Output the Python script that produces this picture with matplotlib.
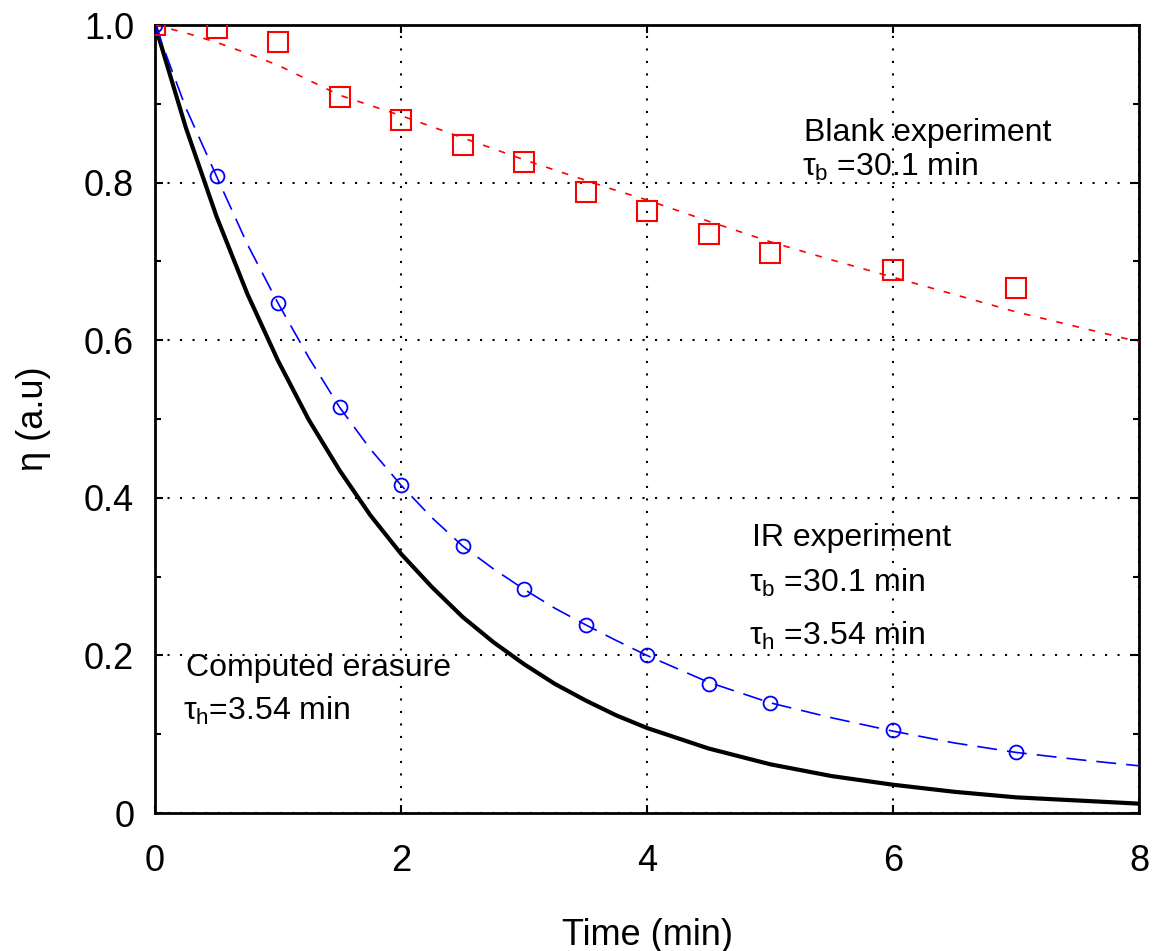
import matplotlib
matplotlib.use("Agg")
import matplotlib.pyplot as plt
from matplotlib.ticker import MultipleLocator

plt.rcParams["font.family"] = ["Liberation Sans", "DejaVu Sans"]
plt.rcParams["mathtext.fontset"] = "custom"
plt.rcParams["mathtext.rm"] = "Liberation Sans"
plt.rcParams["mathtext.it"] = "Liberation Sans"

# Measured points
t_blank = [0, 0.5, 1, 1.5, 2, 2.5, 3, 3.5, 4, 4.5, 5, 6, 7]
eta_blank = [1.0, 0.996, 0.978, 0.909, 0.879, 0.848, 0.826, 0.788, 0.764, 0.735, 0.711, 0.689, 0.666]

t_ir = [0, 0.5, 1, 1.5, 2, 2.5, 3, 3.5, 4, 4.5, 5, 6, 7]
eta_ir = [1.0, 0.808, 0.647, 0.515, 0.416, 0.339, 0.284, 0.239, 0.200, 0.164, 0.140, 0.105, 0.077]

# Fitted / computed curves
t_fit = [0, 0.25, 0.5, 0.75, 1, 1.25, 1.5, 1.75, 2, 2.25, 2.5, 2.75, 3, 3.25, 3.5, 3.75,
         4, 4.5, 5, 5.5, 6, 6.5, 7, 7.5, 8]
eta_blank_fit = [1.0, 0.99, 0.978, 0.964, 0.949, 0.93, 0.911, 0.898, 0.885, 0.871, 0.857, 0.843,
                 0.829, 0.816, 0.803, 0.790, 0.778, 0.751, 0.725, 0.702, 0.680, 0.658, 0.636,
                 0.617, 0.598]
eta_ir_fit = [1.0, 0.895, 0.808, 0.722, 0.647, 0.578, 0.515, 0.462, 0.416, 0.375, 0.339, 0.310,
              0.284, 0.260, 0.239, 0.219, 0.200, 0.166, 0.140, 0.121, 0.104, 0.089, 0.077,
              0.068, 0.060]
eta_computed = [1.0, 0.870, 0.757, 0.659, 0.574, 0.499, 0.435, 0.378, 0.329, 0.287, 0.249, 0.217,
                0.189, 0.164, 0.143, 0.124, 0.108, 0.082, 0.062, 0.047, 0.036, 0.027, 0.020,
                0.016, 0.012]

fig = plt.figure(figsize=(11.57, 9.51), dpi=100)
ax = fig.add_axes([0.134, 0.145, 0.8505, 0.8287])

ax.plot(t_fit, eta_computed, color="black", lw=3, zorder=3)
ax.plot(t_fit, eta_blank_fit, color="red", lw=1.2, dashes=(4, 6), zorder=3)
ax.plot(t_fit, eta_ir_fit, color="blue", lw=1.2, dashes=(12, 6), zorder=3)
ax.plot(t_blank, eta_blank, ls="none", marker="s", ms=15, mfc="none", mec="red", mew=1.5, zorder=4)
ax.plot(t_ir, eta_ir, ls="none", marker="o", ms=10, mfc="none", mec="blue", mew=1.3, zorder=4)

ax.set_xlim(0, 8)
ax.set_ylim(0, 1.0)
ax.yaxis.set_minor_locator(MultipleLocator(0.1))
ax.set_xticks([0, 2, 4, 6, 8])
ax.set_xticklabels(["0", "2", "4", "6", "8"])
ax.set_yticks([0, 0.2, 0.4, 0.6, 0.8, 1.0])
ax.set_yticklabels(["0", "0.2", "0.4", "0.6", "0.8", "1.0"])
ax.tick_params(which="both", direction="in", top=True, right=True, labelsize=26)
ax.tick_params(axis="x", pad=22)
ax.tick_params(axis="y", pad=15)
ax.tick_params(which="major", length=6, width=1.5)
ax.tick_params(which="minor", length=4, width=1.5)

ax.grid(True, which="major", color="black", ls=(0, (1, 5)), lw=1.5)
for s in ax.spines.values():
    s.set_linewidth(2)

ax.set_xlabel("Time (min)", fontsize=26, labelpad=28)
ax.set_ylabel("η (a.u)", fontsize=26, labelpad=24)

fs = 23
ax.text(5.28, 0.863, "Blank experiment", fontsize=fs, va="center")
ax.text(5.26, 0.820, r"$\tau_b$ =30.1 min", fontsize=fs, va="center")
ax.text(4.85, 0.349, "IR experiment", fontsize=fs, va="center")
ax.text(4.83, 0.292, r"$\tau_b$ =30.1 min", fontsize=fs, va="center")
ax.text(4.83, 0.225, r"$\tau_h$ =3.54 min", fontsize=fs, va="center")
ax.text(0.25, 0.184, "Computed erasure", fontsize=fs, va="center")
ax.text(0.23, 0.130, r"$\tau_h$=3.54 min", fontsize=fs, va="center")

fig.savefig("out.png", dpi=100)
